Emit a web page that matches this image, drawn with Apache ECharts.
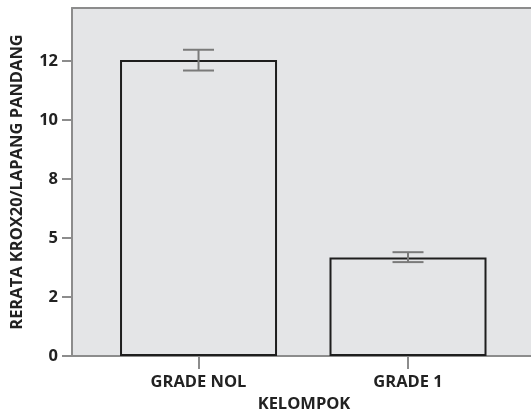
<!DOCTYPE html>
<html><head><meta charset="utf-8">
<script src="https://cdn.jsdelivr.net/npm/echarts@6/dist/echarts.min.js"></script>
<style>html,body{margin:0;padding:0;background:#fff;overflow:hidden}#c{width:540px;height:413px}</style>
</head><body><div id="c"></div>
<script>
const categories = ['GRADE NOL', 'GRADE 1'];
const means = [12.55, 4.18];
const errLow = [12.1, 3.98];
const errHigh = [12.98, 4.4];
const yTickValues = [0, 2.5, 5, 7.5, 10, 12.5];
const yTickLabels = ['0', '2', '5', '8', '10', '12'];
const xTitle = 'KELOMPOK';
const yTitle = 'RERATA KROX20/LAPANG PANDANG';

const FONT = 'Open Sans';
const FS = 16.5;
const GRAY = '#8c8c8c';
const chart = echarts.init(document.getElementById('c'), null, {renderer: 'canvas'});
const catIdx = categories.map((_, i) => i);
chart.setOption({
  animation: false,
  grid: {left: 72, top: 8, width: 464, height: 348, show: true, backgroundColor: '#e4e5e7', borderWidth: 0, outerBoundsMode: 'none', containLabel: false},
  xAxis: [{
    type: 'value', min: -0.604, max: 1.611,
    name: xTitle, nameLocation: 'middle', nameGap: 37,
    nameTextStyle: {fontFamily: FONT, fontWeight: 'bold', fontSize: FS, color: '#222'},
    axisLine: {show: true, onZero: false, lineStyle: {color: GRAY, width: 2}},
    axisTick: {show: true, customValues: catIdx, length: 13, lineStyle: {color: GRAY, width: 2}},
    axisLabel: {customValues: catIdx, formatter: v => categories[Math.round(v)] || '', margin: 18,
      fontFamily: FONT, fontWeight: 'bold', fontSize: FS, color: '#222'},
    splitLine: {show: false}
  }, {
    type: 'value', position: 'top', min: -0.604, max: 1.611,
    axisLine: {show: true, onZero: false, lineStyle: {color: GRAY, width: 2}},
    axisTick: {show: false}, axisLabel: {show: false}, splitLine: {show: false}
  }],
  yAxis: {
    type: 'value', min: 0, max: 14.75,
    name: yTitle, nameLocation: 'middle', nameGap: 46,
    nameTextStyle: {fontFamily: FONT, fontWeight: 'bold', fontSize: FS, color: '#222'},
    axisLine: {show: true, onZero: false, lineStyle: {color: GRAY, width: 2}},
    axisTick: {show: true, customValues: yTickValues, length: 10, lineStyle: {color: GRAY, width: 2}},
    axisLabel: {customValues: yTickValues, formatter: v => { const i = yTickValues.indexOf(v); return i >= 0 ? yTickLabels[i] : ''; },
      margin: 14, fontFamily: FONT, fontWeight: 'bold', fontSize: FS, color: '#222'},
    splitLine: {show: false}
  },
  series: [
    {type: 'bar', barWidth: 157, data: catIdx.map(i => [i, means[i]]),
     itemStyle: {color: '#e4e5e7', borderColor: '#1e1e1e', borderWidth: 2}},
    {type: 'custom', z: 5, data: catIdx.map(i => [i, errLow[i], errHigh[i]]),
     renderItem: function (params, api) {
       const x = api.value(0);
       const lo = api.coord([x, api.value(1)]);
       const hi = api.coord([x, api.value(2)]);
       const hw = 15.5;
       const st = {stroke: '#7a7a7a', lineWidth: 2};
       return {type: 'group', children: [
         {type: 'line', shape: {x1: lo[0], y1: lo[1], x2: hi[0], y2: hi[1]}, style: st},
         {type: 'line', shape: {x1: lo[0] - hw, y1: lo[1], x2: lo[0] + hw, y2: lo[1]}, style: st},
         {type: 'line', shape: {x1: hi[0] - hw, y1: hi[1], x2: hi[0] + hw, y2: hi[1]}, style: st}
       ]};
     }}
  ]
});
</script></body></html>
